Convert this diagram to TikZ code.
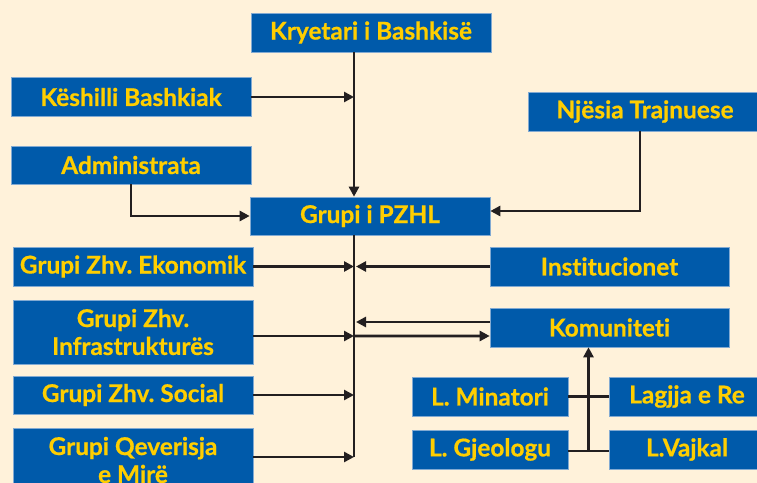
\documentclass[tikz,border=0pt]{standalone}
\usepackage{fontspec}
\setsansfont{Lato}[Ligatures=NoCommon, BoldFeatures={FakeBold=0.6}]
\usetikzlibrary{arrows.meta,calc}
\definecolor{bg}{RGB}{255,242,218}
\definecolor{boxblue}{RGB}{0,90,170}
\definecolor{txtyel}{RGB}{255,206,0}
\definecolor{edgeblue}{RGB}{130,170,210}
\definecolor{ink}{RGB}{35,31,32}
\begin{document}
\frenchspacing
\begin{tikzpicture}[x=1bp,y=-1bp,
  box/.style={fill=boxblue, draw=edgeblue, line width=0.6bp, text=txtyel,
    font=\sffamily\bfseries\fontsize{24.5}{28}\selectfont, inner sep=0pt,
    align=center, minimum height=39bp, minimum width=240bp},
  small/.style={box, minimum width=156bp},
  conn/.style={draw=ink, line width=2.6bp},
  arr/.style={conn, -{Triangle[length=10bp,width=10bp]}}]
\useasboundingbox (0,0) rectangle (757,483);
\fill[bg] (0,0) rectangle (757,483);
\clip (0,0) rectangle (757,483);
% nodes
\node[box] (kry) at (371,32.5) {Kryetari i Bashkisë};
\node[box] (kes) at (131,97) {Këshilli Bashkiak};
\node[box, minimum height=38bp] (adm) at (131,165) {Administrata};
\node[box, minimum height=38bp] (pzhl) at (370,216) {Grupi i PZHL};
\node[box, minimum width=234bp] (nje) at (645,111.5) {Njësia Trajnuese};
\node[box] (eko) at (133,266.5) {Grupi Zhv. Ekonomik};
\node[box, minimum height=64bp] (inf) at (133,332) {Grupi Zhv.\\Infrastrukturës};
\node[box, minimum height=38bp] (soc) at (133,395) {Grupi Zhv. Social};
\node[box, minimum height=64bp] (qev) at (133,460) {Grupi Qeverisja\\e Mirë};
\node[box, minimum width=239bp] (ins) at (609.5,266.5) {Institucionet};
\node[box, minimum width=239bp] (kom) at (609.5,327.5) {Komuniteti};
\node[small] (min) at (490,396.5) {L. Minatori};
\node[small] (lag) at (687,396.5) {Lagjja e Re};
\node[small] (gje) at (490,449.5) {L. Gjeologu};
\node[small] (vaj) at (687,449.5) {L.Vajkal};
% spine
\coordinate (sx) at (354,0);
\coordinate (spend) at ([yshift=3bp]qev.east -| sx);
\draw[arr] (kry.south -| sx) -- (pzhl.north -| sx);
\draw[conn] (pzhl.south -| sx) -- (spend);
\draw[arr] (kes.east) -- (kes.east -| sx);
\draw[arr] (adm.south) |- (pzhl.west);
\draw[arr] (nje.south -| 640,0) |- ([yshift=5bp]pzhl.east);
\draw[arr] (eko.east) -- (eko.east -| sx);
\draw[arr] (ins.west) -- ([xshift=2bp]ins.west -| sx);
\draw[arr] ([yshift=-4bp]inf.east) -- ([yshift=-4bp]inf.east -| sx);
\draw[arr] ([yshift=-4bp]inf.east -| sx) -- ([yshift=-8.5bp]kom.west);
\draw[arr] ([yshift=5.5bp]kom.west) -- ([xshift=2bp,yshift=5.5bp]kom.west -| sx);
\draw[arr] (soc.east) -- (soc.east -| sx);
\draw[arr] (spend -| qev.east) -- (spend);
% Komuniteti sub-tree
\coordinate (cx) at ($(gje.east)!0.5!(vaj.west)$);
\draw[conn] (min.east) -- (lag.west);
\draw[conn] ([yshift=-1.5bp]gje.east) -- ([yshift=-1.5bp]vaj.west);
\draw[arr] ([yshift=-1.5bp]cx) -- (kom.south -| cx);
\end{tikzpicture}
\end{document}
